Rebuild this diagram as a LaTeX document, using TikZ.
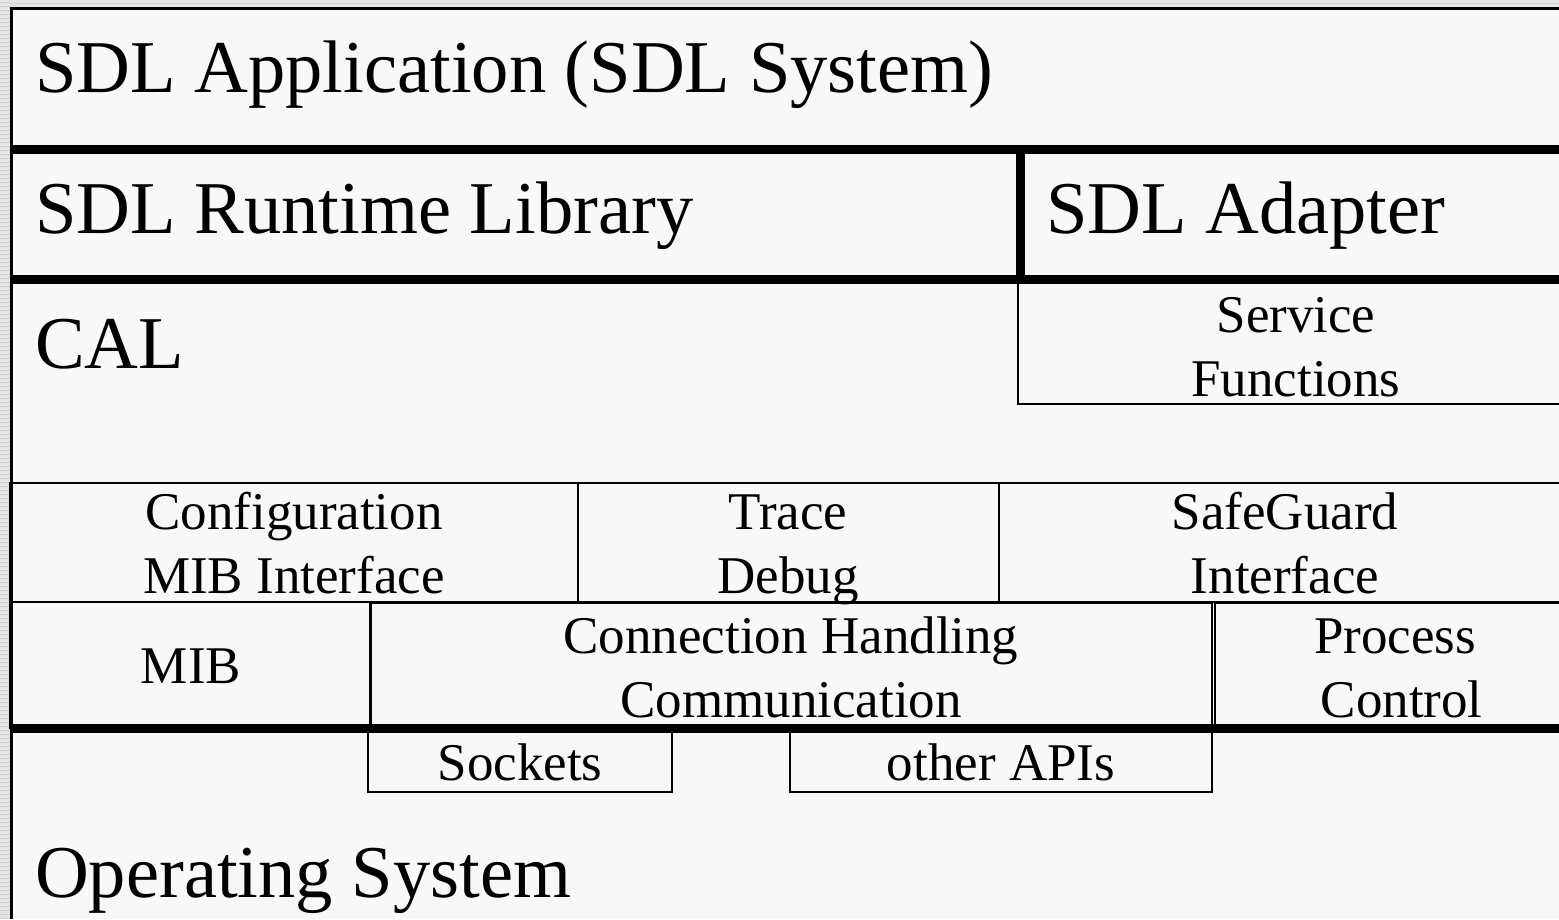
\documentclass[tikz,border=0pt]{standalone}
\usepackage{fontspec}
\setmainfont{Liberation Serif}
\definecolor{paper}{HTML}{F8F8F8}
\definecolor{rail}{HTML}{E4E4E4}
\definecolor{railline}{HTML}{CFCFCF}
\tikzset{
  rule/.style={line width=9pt},
  thinbox/.style={draw, line width=2.5pt},
  frame/.style={line width=3pt},
  bigtext/.style={font=\fontsize{74.5}{90}\selectfont, inner sep=0pt, anchor=base west},
  % two-line labels: the base anchor sits on the last line's baseline
  smalltext/.style={font=\fontsize{53}{63.5}\selectfont, inner sep=0pt, align=center, anchor=base},
}
\begin{document}
\begin{tikzpicture}[x=1pt,y=-1pt]
\useasboundingbox (0,0) rectangle (1559,919);
\clip (0,0) rectangle (1559,919);
% page and striped rails
\fill[paper] (0,0) rectangle (1559,919);
\fill[rail] (0,0) rectangle (1559,7);
\fill[rail] (0,0) rectangle (10,919);
\foreach \y in {2,6,...,918} \draw[railline, line width=1pt] (0,\y) -- (10,\y);
\draw[railline, line width=1pt] (10,3) -- (1559,3);
% outer frame
\draw[frame] (11,919) -- (11,8) -- (1559,8);

% upper layers
\draw[rule] (10,149) -- (1559,149);
\draw[rule] (10,279.5) -- (1559,279.5);
\draw[rule] (1020,149) -- (1020,279.5);
\draw[thinbox, line width=2pt] (1018,279.5) rectangle (1575,404);

% service row
\draw[thinbox] (10,483) rectangle (1575,602);
\draw[thinbox] (578,483) -- (578,602);
\draw[thinbox] (999,483) -- (999,602);

% connection row
\draw[thinbox] (10,602) rectangle (370,728);
\draw[thinbox] (370.5,603) rectangle (1212,728);
\draw[thinbox] (1215,603) rectangle (1575,728);
\draw[rule] (10,728) -- (1559,728);

% operating system interfaces
\draw[thinbox] (368,728) rectangle (672,792);
\draw[thinbox] (790,728) rectangle (1212,792);

% labels
\node[bigtext] (app) at (35,92) {SDL Application (SDL System)};
\node[bigtext] (rtl) at (35,233) {SDL Runtime Library};
\node[bigtext] (adapter) at (1046,233) {SDL Adapter};
\node[bigtext] (cal) at (35,368) {CAL};
\node[bigtext] (os) at (35,897) {Operating System};

\node[smalltext] (service) at (1296,396) {Service\\Functions};
\node[smalltext] (config) at (294,593) {Configuration\\MIB Interface};
\node[smalltext] (trace) at (788,593) {Trace\\Debug};
\node[smalltext] (safeguard) at (1285,593) {SafeGuard\\Interface};
\node[smalltext] (mib) at (191,683) {MIB};
\node[smalltext] (conn) at (791,717) {Connection Handling\\Communication};
\node[smalltext] (proc) at (1395,717) {Process\\\mbox{}\ Control};
\node[smalltext] (sockets) at (520,780) {Sockets};
\node[smalltext] (apis) at (1001,780) {other APIs};
\end{tikzpicture}
\end{document}
